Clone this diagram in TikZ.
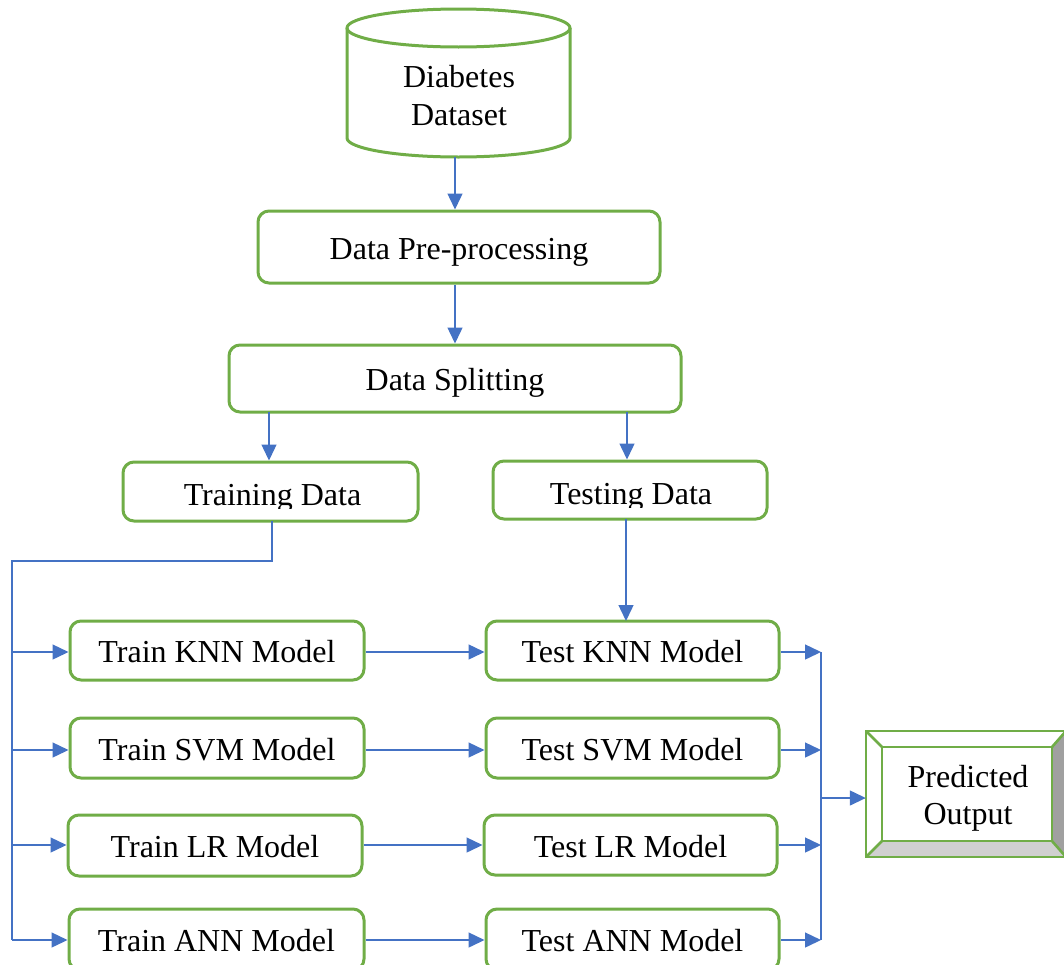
\documentclass[tikz,border=0pt]{standalone}
\usepackage{fontspec}
\setmainfont{Liberation Serif}
\usetikzlibrary{arrows.meta}
\definecolor{boxgreen}{HTML}{70AD47}
\definecolor{linkblue}{HTML}{4472C4}
\definecolor{bevdark}{HTML}{A0A0A0}
\definecolor{bevlight}{HTML}{D0D0D0}
\begin{document}
\begin{tikzpicture}[x=1pt,y=-1pt,
  txt/.style={font=\fontsize{32}{38}\selectfont, align=center},
  box/.style={draw=boxgreen, line width=3pt, rounded corners=11pt, txt, inner sep=0pt,
    text height=24pt, text depth=0pt},
  link/.style={draw=linkblue, line width=1.4pt},
  arr/.style={link, -{Triangle[length=16pt,width=15pt]}}]
\useasboundingbox (0,0) rectangle (1064,964);
\clip (0,0) rectangle (1064,964);

% database cylinder
\draw[boxgreen, line width=3pt, fill=white]
  (347,28) -- (347,138) arc[start angle=180, end angle=0, x radius=111.5, y radius=19]
  -- (570,28);
\draw[boxgreen, line width=3pt] (458.5,28) ellipse[x radius=111.5, y radius=19];
\node[txt, minimum width=223pt, minimum height=148pt, inner sep=0pt] (db) at (458.5,83) {};
\node[txt, anchor=base] (dbtext) at (459,87) {Diabetes};
\node[txt, anchor=base] (dbtext2) at (459,125) {Dataset};

% processing chain
\node[box, minimum width=402pt, minimum height=72pt] (pre) at (459,247) {Data Pre-processing};
\node[box, minimum width=452pt, minimum height=67pt] (split) at (455,378.5) {Data Splitting};
\node[box, minimum width=295pt, minimum height=59pt] (train) at (270.5,491.5) {};
\node[box, minimum width=274pt, minimum height=58pt] (test) at (630,490) {};
\begin{scope}
  \clip (123,462) rectangle (418,508);
  \node[txt, anchor=base] (traintext) at (272.5,505) {Training Data};
\end{scope}
\begin{scope}
  \clip (493,461) rectangle (767,507);
  \node[txt, anchor=base] (testtext) at (631,504) {Testing Data};
\end{scope}

% model boxes
\node[box, minimum width=294pt, minimum height=59pt] (trknn) at (217,650.5) {Train KNN Model};
\node[box, minimum width=293pt, minimum height=59pt] (tsknn) at (632.5,650.5) {Test KNN Model};
\node[box, minimum width=294pt, minimum height=60pt] (trsvm) at (217,748) {Train SVM Model};
\node[box, minimum width=293pt, minimum height=60pt] (tssvm) at (632.5,748) {Test SVM Model};
\node[box, minimum width=294pt, minimum height=61pt] (trlr) at (215,845.5) {Train LR Model};
\node[box, minimum width=293pt, minimum height=60pt] (tslr) at (630.5,845) {Test LR Model};
\node[box, minimum width=295pt, minimum height=61pt] (trann) at (216.5,939.5) {Train ANN Model};
\node[box, minimum width=293pt, minimum height=61pt] (tsann) at (632.5,939.5) {Test ANN Model};

% predicted output (bevelled frame)
\fill[white] (866,731) rectangle (1066,857);
\fill[bevdark] (1052,747) -- (1066,731) -- (1066,857) -- (1052,841) -- cycle;
\fill[bevlight] (882,841) -- (1052,841) -- (1066,857) -- (866,857) -- cycle;
\draw[boxgreen, line width=2.6pt] (866,731) rectangle (1066,857);
\draw[boxgreen, line width=2.6pt] (882,747) rectangle (1052,841);
\draw[boxgreen, line width=2.6pt] (866,731) -- (882,747) (1066,731) -- (1052,747)
  (866,857) -- (882,841) (1066,857) -- (1052,841);
\node[txt, minimum width=200pt, minimum height=126pt, inner sep=0pt] (out) at (966,794) {};
\node[txt, anchor=base] (outtext) at (968,787) {Predicted};
\node[txt, anchor=base] (outtext2) at (968,824) {Output};

% row levels and bus points
\coordinate (r1) at (12,652);
\coordinate (r2) at (12,750);
\coordinate (r3) at (12,845);
\coordinate (r4) at (12,940);
\coordinate (q1) at (821,652);
\coordinate (q2) at (821,750);
\coordinate (q3) at (821,845);
\coordinate (q4) at (821,940);
\coordinate (bus) at (821,798);
\coordinate (split1) at (269,412);
\coordinate (split2) at (627,412);

% connectors
\draw[arr] (db.south -| split.north) -- (split.north |- pre.north);
\draw[arr] (pre.south -| split.north) -- (split.north);
\draw[arr] (split1) -- (split1 |- train.north);
\draw[arr] (split2) -- (split2 |- test.north);
\draw[link] (272,521) -- (272,561) -- (12,561) -- (r4);
\draw[arr] (626,519) -- (626,621);
\foreach \r/\a/\b in {r1/trknn/tsknn, r2/trsvm/tssvm, r3/trlr/tslr, r4/trann/tsann}{
  \draw[arr] (\r) -- (\r -| \a.west);
  \draw[arr] (\r -| \a.east) -- (\r -| \b.west);
}
\foreach \q/\b in {q1/tsknn, q2/tssvm, q3/tslr, q4/tsann}{
  \draw[arr] (\q -| \b.east) -- (\q);
}
\draw[link] (q1) -- (q4);
\draw[arr] (bus) -- (bus -| out.west);
\end{tikzpicture}
\end{document}
